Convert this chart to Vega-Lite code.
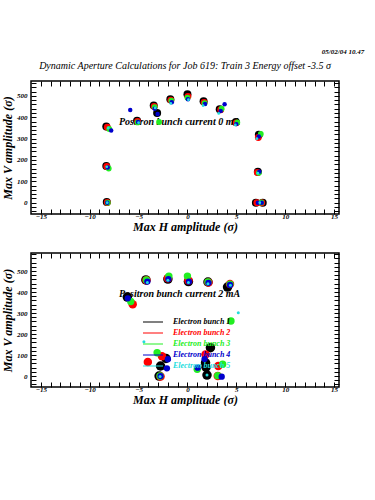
{
  "$schema": "https://vega.github.io/schema/vega-lite/v6.json",
  "background": "white",
  "padding": {"left": 0, "top": 48, "right": 0, "bottom": 0},
  "title": {"text": "05/02/04   10.47", "anchor": "end", "fontSize": 7, "font": "Liberation Serif", "fontStyle": "italic", "fontWeight": "bold", "color": "black", "dx": 24, "offset": 5},
  "config": {
    "view": {"stroke": "black", "strokeWidth": 1.5},
    "axis": {"domain": false, "grid": false, "tickColor": "black", "tickWidth": 1, "labelFont": "Liberation Serif", "labelFontStyle": "italic", "labelFontWeight": "bold", "labelFontSize": 7, "labelColor": "black", "titleFont": "Liberation Serif", "titleFontStyle": "italic", "titleFontWeight": "bold", "titleFontSize": 12, "titleColor": "black", "labelOverlap": false, "labelFlush": false},
    "point": {"filled": true, "opacity": 1, "strokeWidth": 0}
  },
  "bounds": "flush",
  "spacing": 39,
  "resolve": {"scale": {"color": "shared", "size": "independent"}},
  "vconcat": [
    {
      "width": 308, "height": 133,
      "title": {"text": "Dynamic Aperture Calculations for Job 619:  Train 3   Energy offset  -3.5 σ", "font": "Liberation Serif", "fontStyle": "italic", "fontWeight": "normal", "fontSize": 10, "color": "black", "anchor": "middle", "offset": 8},
      "resolve": {"axis": {"x": "independent", "y": "independent"}},
      "layer": [
        {
          "data": {"values": [{"x": -7.0, "y": 378, "label": "Positron bunch current  0 mA"}]},
          "mark": {"type": "text", "align": "left", "baseline": "middle", "font": "Liberation Serif", "fontStyle": "italic", "fontWeight": "bold", "fontSize": 10, "color": "black"},
          "encoding": {
            "x": {"field": "x", "type": "quantitative", "axis": {"orient": "top", "title": null, "labels": false, "values": [-15,-14,-13,-12,-11,-10,-9,-8,-7,-6,-5,-4,-3,-2,-1,0,1,2,3,4,5,6,7,8,9,10,11,12,13,14,15], "tickSize": -5,
                  "encode": {"ticks": {"update": {"y2": {"signal": "datum.value % 5 === 0 ? 6 : 3"}}}}}},
            "y": {"field": "y", "type": "quantitative", "axis": {"orient": "right", "title": null, "labels": false, "values": [-40,-20,0,20,40,60,80,100,120,140,160,180,200,220,240,260,280,300,320,340,360,380,400,420,440,460,480,500,520,540,560], "tickSize": -5,
                  "encode": {"ticks": {"update": {"x2": {"signal": "datum.value % 100 === 0 ? -5 : -3"}}}}}},
            "text": {"field": "label"}
          }
        },
        {
          "data": {"values": [
            {"bunch": "Electron bunch 1", "x": -8.25, "y": 3}, {"bunch": "Electron bunch 2", "x": -8.2, "y": 1}, {"bunch": "Electron bunch 3", "x": -8.15, "y": 0}, {"bunch": "Electron bunch 4", "x": -8.2, "y": 0}, {"bunch": "Electron bunch 5", "x": -8.2, "y": 0},
            {"bunch": "Electron bunch 1", "x": -8.3, "y": 172}, {"bunch": "Electron bunch 2", "x": -8.25, "y": 170}, {"bunch": "Electron bunch 3", "x": -8.05, "y": 160}, {"bunch": "Electron bunch 4", "x": -8.15, "y": 165}, {"bunch": "Electron bunch 5", "x": -8.25, "y": 168},
            {"bunch": "Electron bunch 1", "x": -8.3, "y": 357}, {"bunch": "Electron bunch 2", "x": -8.2, "y": 353}, {"bunch": "Electron bunch 3", "x": -8.0, "y": 345}, {"bunch": "Electron bunch 4", "x": -7.8, "y": 338}, {"bunch": "Electron bunch 5", "x": -8.1, "y": 350},
            {"bunch": "Electron bunch 1", "x": -5.15, "y": 384}, {"bunch": "Electron bunch 2", "x": -5.1, "y": 380}, {"bunch": "Electron bunch 3", "x": -5.1, "y": 376}, {"bunch": "Electron bunch 4", "x": -5.05, "y": 378}, {"bunch": "Electron bunch 5", "x": -5.0, "y": 375},
            {"bunch": "Electron bunch 4", "x": -5.85, "y": 434},
            {"bunch": "Electron bunch 1", "x": -3.45, "y": 455}, {"bunch": "Electron bunch 2", "x": -3.4, "y": 451}, {"bunch": "Electron bunch 3", "x": -3.35, "y": 447}, {"bunch": "Electron bunch 4", "x": -3.35, "y": 440}, {"bunch": "Electron bunch 5", "x": -3.3, "y": 444},
            {"bunch": "Electron bunch 1", "x": -3.1, "y": 420}, {"bunch": "Electron bunch 4", "x": -3.05, "y": 415},
            {"bunch": "Electron bunch 3", "x": -2.9, "y": 378},
            {"bunch": "Electron bunch 1", "x": -1.75, "y": 485}, {"bunch": "Electron bunch 2", "x": -1.7, "y": 480}, {"bunch": "Electron bunch 3", "x": -1.65, "y": 478}, {"bunch": "Electron bunch 4", "x": -1.6, "y": 470}, {"bunch": "Electron bunch 5", "x": -1.7, "y": 465},
            {"bunch": "Electron bunch 1", "x": 0, "y": 508}, {"bunch": "Electron bunch 2", "x": 0.05, "y": 498}, {"bunch": "Electron bunch 3", "x": 0, "y": 492}, {"bunch": "Electron bunch 4", "x": 0.05, "y": 485}, {"bunch": "Electron bunch 5", "x": 0.1, "y": 482},
            {"bunch": "Electron bunch 1", "x": 1.65, "y": 475}, {"bunch": "Electron bunch 2", "x": 1.7, "y": 470}, {"bunch": "Electron bunch 3", "x": 1.75, "y": 466}, {"bunch": "Electron bunch 4", "x": 1.8, "y": 462}, {"bunch": "Electron bunch 5", "x": 1.6, "y": 455},
            {"bunch": "Electron bunch 1", "x": 3.3, "y": 438}, {"bunch": "Electron bunch 2", "x": 3.4, "y": 435}, {"bunch": "Electron bunch 3", "x": 3.5, "y": 440}, {"bunch": "Electron bunch 4", "x": 3.4, "y": 430}, {"bunch": "Electron bunch 5", "x": 3.2, "y": 418},
            {"bunch": "Electron bunch 4", "x": 3.8, "y": 461},
            {"bunch": "Electron bunch 1", "x": 4.95, "y": 378}, {"bunch": "Electron bunch 2", "x": 5.0, "y": 374}, {"bunch": "Electron bunch 3", "x": 5.1, "y": 376}, {"bunch": "Electron bunch 4", "x": 5.0, "y": 368}, {"bunch": "Electron bunch 5", "x": 4.9, "y": 364},
            {"bunch": "Electron bunch 1", "x": 7.3, "y": 318}, {"bunch": "Electron bunch 2", "x": 7.25, "y": 305}, {"bunch": "Electron bunch 3", "x": 7.5, "y": 322}, {"bunch": "Electron bunch 4", "x": 7.3, "y": 310}, {"bunch": "Electron bunch 5", "x": 7.1, "y": 300},
            {"bunch": "Electron bunch 1", "x": 7.2, "y": 145}, {"bunch": "Electron bunch 2", "x": 7.15, "y": 141}, {"bunch": "Electron bunch 3", "x": 7.3, "y": 140}, {"bunch": "Electron bunch 4", "x": 7.35, "y": 145}, {"bunch": "Electron bunch 5", "x": 7.2, "y": 138},
            {"bunch": "Electron bunch 1", "x": 7.0, "y": 0}, {"bunch": "Electron bunch 1", "x": 7.7, "y": 0}, {"bunch": "Electron bunch 2", "x": 7.1, "y": 0}, {"bunch": "Electron bunch 2", "x": 7.6, "y": 0}, {"bunch": "Electron bunch 3", "x": 7.55, "y": 1}, {"bunch": "Electron bunch 4", "x": 7.2, "y": 0}, {"bunch": "Electron bunch 4", "x": 7.6, "y": 0}, {"bunch": "Electron bunch 5", "x": 7.4, "y": 0}
          ]},
          "mark": "point",
          "encoding": {
            "x": {"field": "x", "type": "quantitative", "scale": {"domain": [-16, 15.5], "zero": false, "nice": false},
                  "axis": {"orient": "bottom", "title": "Max H amplitude (σ)", "values": [-15,-14,-13,-12,-11,-10,-9,-8,-7,-6,-5,-4,-3,-2,-1,0,1,2,3,4,5,6,7,8,9,10,11,12,13,14,15], "tickSize": -5, "labelPadding": 3, "titlePadding": 2,
                           "labelExpr": "datum.value % 5 === 0 ? datum.label : ''",
                           "encode": {"ticks": {"update": {"y2": {"signal": "datum.value % 5 === 0 ? -6 : -3"}}}}}},
            "y": {"field": "y", "type": "quantitative", "scale": {"domain": [-53, 570], "zero": false, "nice": false},
                  "axis": {"orient": "left", "title": "Max V amplitude (σ)", "values": [-40,-20,0,20,40,60,80,100,120,140,160,180,200,220,240,260,280,300,320,340,360,380,400,420,440,460,480,500,520,540,560], "tickSize": -5, "labelPadding": 9, "titlePadding": 2,
                           "labelExpr": "datum.value % 100 === 0 ? datum.label : ''",
                           "encode": {"ticks": {"update": {"x2": {"signal": "datum.value % 100 === 0 ? 5 : 3"}}}}}},
            "color": {"field": "bunch", "type": "nominal", "title": null,
                      "scale": {"domain": ["Electron bunch 1", "Electron bunch 2", "Electron bunch 3", "Electron bunch 4", "Electron bunch 5"], "range": ["#000000", "#ff0000", "#22ee22", "#0000cc", "#22dddd"]},
                      "legend": {"orient": "none", "legendX": 117, "legendY": 236, "zindex": -1, "symbolType": "M-2,-0.1H2V0.1H-2Z", "symbolSize": 100, "symbolOpacity": 1, "labelFont": "Liberation Serif", "labelFontStyle": "italic", "labelFontWeight": "bold", "labelFontSize": 8, "labelOffset": 15, "rowPadding": 2,
                                 "labelColor": {"expr": "scale('color', datum.value)"}}},
            "size": {"field": "bunch", "type": "ordinal", "scale": {"type": "ordinal", "domain": ["Electron bunch 1", "Electron bunch 2", "Electron bunch 3", "Electron bunch 4", "Electron bunch 5"], "range": [64, 48, 34, 20, 8]}, "legend": null},
            "order": {"field": "bunch"}
          }
        }
      ]
    },
    {
      "width": 308, "height": 134,
      "resolve": {"axis": {"x": "independent", "y": "independent"}},
      "layer": [
        {
          "data": {"values": [{"x": -7.0, "y": 390, "label": "Positron bunch current  2 mA"}]},
          "mark": {"type": "text", "align": "left", "baseline": "middle", "font": "Liberation Serif", "fontStyle": "italic", "fontWeight": "bold", "fontSize": 10, "color": "black"},
          "encoding": {
            "x": {"field": "x", "type": "quantitative", "axis": {"orient": "top", "title": null, "labels": false, "values": [-15,-14,-13,-12,-11,-10,-9,-8,-7,-6,-5,-4,-3,-2,-1,0,1,2,3,4,5,6,7,8,9,10,11,12,13,14,15], "tickSize": -5,
                  "encode": {"ticks": {"update": {"y2": {"signal": "datum.value % 5 === 0 ? 6 : 3"}}}}}},
            "y": {"field": "y", "type": "quantitative", "axis": {"orient": "right", "title": null, "labels": false, "values": [-40,-20,0,20,40,60,80,100,120,140,160,180,200,220,240,260,280,300,320,340,360,380,400,420,440,460,480,500,520,540,560,580], "tickSize": -5,
                  "encode": {"ticks": {"update": {"x2": {"signal": "datum.value % 100 === 0 ? -5 : -3"}}}}}},
            "text": {"field": "label"}
          }
        },
        {
          "data": {"values": [
            {"bunch": "Electron bunch 1", "x": -4.25, "y": 458}, {"bunch": "Electron bunch 2", "x": -4.2, "y": 456}, {"bunch": "Electron bunch 3", "x": -4.2, "y": 458}, {"bunch": "Electron bunch 4", "x": -4.1, "y": 450}, {"bunch": "Electron bunch 5", "x": -4.1, "y": 446},
            {"bunch": "Electron bunch 1", "x": -2.0, "y": 462}, {"bunch": "Electron bunch 2", "x": -2.0, "y": 466}, {"bunch": "Electron bunch 3", "x": -1.9, "y": 476}, {"bunch": "Electron bunch 4", "x": -1.95, "y": 462}, {"bunch": "Electron bunch 5", "x": -2.0, "y": 456},
            {"bunch": "Electron bunch 1", "x": 0.1, "y": 450}, {"bunch": "Electron bunch 2", "x": 0.1, "y": 455}, {"bunch": "Electron bunch 3", "x": 0.0, "y": 476}, {"bunch": "Electron bunch 4", "x": 0.15, "y": 450}, {"bunch": "Electron bunch 5", "x": 0.1, "y": 445},
            {"bunch": "Electron bunch 1", "x": 2.1, "y": 448}, {"bunch": "Electron bunch 2", "x": 2.15, "y": 446}, {"bunch": "Electron bunch 3", "x": 2.1, "y": 448}, {"bunch": "Electron bunch 4", "x": 2.15, "y": 444}, {"bunch": "Electron bunch 5", "x": 2.1, "y": 440},
            {"bunch": "Electron bunch 1", "x": 4.1, "y": 424}, {"bunch": "Electron bunch 2", "x": 4.35, "y": 438}, {"bunch": "Electron bunch 3", "x": 4.35, "y": 438}, {"bunch": "Electron bunch 4", "x": 4.35, "y": 434}, {"bunch": "Electron bunch 5", "x": 4.4, "y": 432},
            {"bunch": "Electron bunch 1", "x": -6.15, "y": 376}, {"bunch": "Electron bunch 4", "x": -6.1, "y": 370}, {"bunch": "Electron bunch 3", "x": -5.8, "y": 355}, {"bunch": "Electron bunch 2", "x": -5.6, "y": 342},
            {"bunch": "Electron bunch 2", "x": -4.05, "y": 67},
            {"bunch": "Electron bunch 3", "x": -3.1, "y": 111},
            {"bunch": "Electron bunch 2", "x": -2.6, "y": 95},
            {"bunch": "Electron bunch 1", "x": -2.2, "y": 84}, {"bunch": "Electron bunch 4", "x": -2.0, "y": 80},
            {"bunch": "Electron bunch 1", "x": -2.75, "y": 48}, {"bunch": "Electron bunch 4", "x": -2.1, "y": 37},
            {"bunch": "Electron bunch 1", "x": -2.9, "y": 0}, {"bunch": "Electron bunch 2", "x": -2.75, "y": -2}, {"bunch": "Electron bunch 3", "x": -2.8, "y": 0}, {"bunch": "Electron bunch 4", "x": -2.75, "y": 0}, {"bunch": "Electron bunch 5", "x": -2.8, "y": -2},
            {"bunch": "Electron bunch 5", "x": -4.45, "y": 163},
            {"bunch": "Electron bunch 5", "x": 5.2, "y": 301},
            {"bunch": "Electron bunch 3", "x": 4.45, "y": 262},
            {"bunch": "Electron bunch 1", "x": 2.35, "y": 135},
            {"bunch": "Electron bunch 2", "x": 1.85, "y": 103},
            {"bunch": "Electron bunch 1", "x": 1.85, "y": 63}, {"bunch": "Electron bunch 1", "x": 1.9, "y": 42},
            {"bunch": "Electron bunch 4", "x": 1.75, "y": 81},
            {"bunch": "Electron bunch 4", "x": 1.05, "y": 40}, {"bunch": "Electron bunch 3", "x": 1.0, "y": 32},
            {"bunch": "Electron bunch 1", "x": 2.0, "y": 5}, {"bunch": "Electron bunch 5", "x": 2.0, "y": 5},
            {"bunch": "Electron bunch 2", "x": 3.15, "y": 48}, {"bunch": "Electron bunch 3", "x": 3.6, "y": 56},
            {"bunch": "Electron bunch 2", "x": 3.1, "y": 0}, {"bunch": "Electron bunch 3", "x": 3.1, "y": 2}, {"bunch": "Electron bunch 4", "x": 3.5, "y": -3}
          ]},
          "mark": "point",
          "encoding": {
            "x": {"field": "x", "type": "quantitative", "scale": {"domain": [-16, 15.5], "zero": false, "nice": false},
                  "axis": {"orient": "bottom", "title": "Max H amplitude (σ)", "values": [-15,-14,-13,-12,-11,-10,-9,-8,-7,-6,-5,-4,-3,-2,-1,0,1,2,3,4,5,6,7,8,9,10,11,12,13,14,15], "tickSize": -5, "labelPadding": 3, "titlePadding": 2,
                           "labelExpr": "datum.value % 5 === 0 ? datum.label : ''",
                           "encode": {"ticks": {"update": {"y2": {"signal": "datum.value % 5 === 0 ? -6 : -3"}}}}}},
            "y": {"field": "y", "type": "quantitative", "scale": {"domain": [-52, 586], "zero": false, "nice": false},
                  "axis": {"orient": "left", "title": "Max V amplitude (σ)", "values": [-40,-20,0,20,40,60,80,100,120,140,160,180,200,220,240,260,280,300,320,340,360,380,400,420,440,460,480,500,520,540,560,580], "tickSize": -5, "labelPadding": 9, "titlePadding": 2,
                           "labelExpr": "datum.value % 100 === 0 ? datum.label : ''",
                           "encode": {"ticks": {"update": {"x2": {"signal": "datum.value % 100 === 0 ? 5 : 3"}}}}}},
            "color": {"field": "bunch", "type": "nominal", "title": null,
                      "scale": {"domain": ["Electron bunch 1", "Electron bunch 2", "Electron bunch 3", "Electron bunch 4", "Electron bunch 5"], "range": ["#000000", "#ff0000", "#22ee22", "#0000cc", "#22dddd"]},
                      "legend": {"orient": "none", "legendX": 117, "legendY": 236, "zindex": -1, "symbolType": "M-2,-0.1H2V0.1H-2Z", "symbolSize": 100, "symbolOpacity": 1, "labelFont": "Liberation Serif", "labelFontStyle": "italic", "labelFontWeight": "bold", "labelFontSize": 8, "labelOffset": 15, "rowPadding": 2,
                                 "labelColor": {"expr": "scale('color', datum.value)"}}},
            "size": {"field": "bunch", "type": "ordinal", "scale": {"type": "ordinal", "domain": ["Electron bunch 1", "Electron bunch 2", "Electron bunch 3", "Electron bunch 4", "Electron bunch 5"], "range": [90, 72, 55, 40, 9]}, "legend": null},
            "order": {"field": "bunch"}
          }
        }
      ]
    }
  ]
}
